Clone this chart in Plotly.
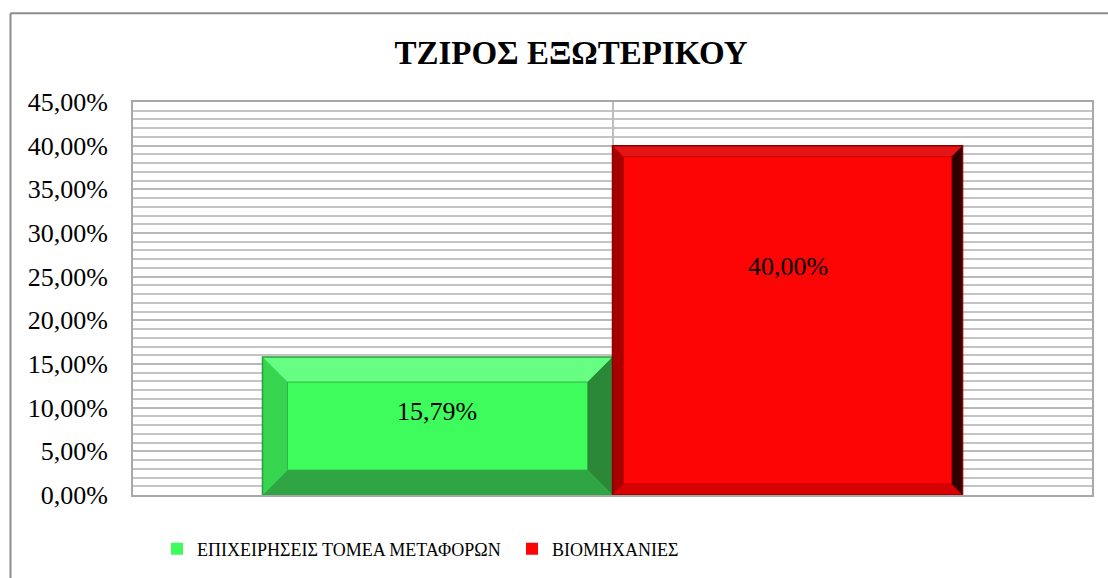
import plotly.graph_objects as go

# ---- data ----
series_names = ["ΕΠΙΧΕΙΡΗΣΕΙΣ ΤΟΜΕΑ ΜΕΤΑΦΟΡΩΝ", "ΒΙΟΜΗΧΑΝΙΕΣ"]
series_values = [0.1579, 0.40]
label_texts = ["15,79%", "40,00%"]
title_text = "ΤΖΙΡΟΣ ΕΞΩΤΕΡΙΚΟΥ"

# ---- styles ----
W, H = 1108, 578
ML, MR, MT, MB = 133, 16, 102, 82
PW, PH = W - ML - MR, H - MT - MB
YMAX = 0.45
XR = (-0.5, 0.5)
BARGAP = 0.27
FONT = "Liberation Serif"
label_y = [0.096, 0.262]          # label positions (layout)
bevel_px = [25, 11]
main_colors = ["#3dfc5c", "#fe0505"]
bevel_colors = [
    dict(top="#66ff84", left="#37d450", bottom="#2fa544", right="#2a8838", edge="#2e9e3e", inner="#33b048"),
    dict(top="#e51515", left="#a80000", bottom="#d80000", right="#300000", edge="#8b0000", inner="#c00000"),
]

px_x = (XR[1] - XR[0]) / PW
px_y = YMAX / PH

fig = go.Figure()
for i, (name, v) in enumerate(zip(series_names, series_values)):
    fig.add_trace(go.Bar(
        x=[0], y=[v], name=name,
        marker=dict(color=main_colors[i], line=dict(width=0)),
        hoverinfo="skip",
    ))

# bevel shapes computed from bar geometry
bw = (1 - BARGAP) / len(series_values)
shapes = []
for i, v in enumerate(series_values):
    x0 = -(1 - BARGAP) / 2 + i * bw
    x1 = x0 + bw
    y0, y1 = 0, v
    dx = bevel_px[i] * px_x
    dy = bevel_px[i] * px_y
    c = bevel_colors[i]
    def path(pts):
        return "M " + " L ".join(f"{a},{b}" for a, b in pts) + " Z"
    polys = [
        ("top", [(x0, y1), (x1, y1), (x1 - dx, y1 - dy), (x0 + dx, y1 - dy)]),
        ("bottom", [(x0, y0), (x1, y0), (x1 - dx, y0 + dy), (x0 + dx, y0 + dy)]),
        ("left", [(x0, y0), (x0, y1), (x0 + dx, y1 - dy), (x0 + dx, y0 + dy)]),
        ("right", [(x1, y0), (x1, y1), (x1 - dx, y1 - dy), (x1 - dx, y0 + dy)]),
    ]
    for key, pts in polys:
        shapes.append(dict(type="path", xref="x", yref="y", path=path(pts),
                           fillcolor=c[key], line=dict(width=0), layer="above"))
    shapes.append(dict(type="rect", xref="x", yref="y",
                       x0=x0 + dx, x1=x1 - dx, y0=y0 + dy, y1=y1 - dy,
                       line=dict(color=c["inner"], width=1), fillcolor="rgba(0,0,0,0)"))
    shapes.append(dict(type="rect", xref="x", yref="y",
                       x0=x0, x1=x1, y0=y0, y1=y1,
                       line=dict(color=c["edge"], width=1.5), fillcolor="rgba(0,0,0,0)"))

# outer chart frame (top and left visible)
fx = (10.5 - ML) / PW
fy = (H - MB - 13) / PH
shapes.append(dict(type="line", xref="paper", yref="paper", x0=fx, x1=(W + 5 - ML) / PW,
                   y0=fy, y1=fy, line=dict(color="#8c8c8c", width=2)))
shapes.append(dict(type="line", xref="paper", yref="paper", x0=fx, x1=fx,
                   y0=fy, y1=-0.3, line=dict(color="#8c8c8c", width=2)))

annotations = []
for i, v in enumerate(series_values):
    x0 = -(1 - BARGAP) / 2 + i * bw
    annotations.append(dict(x=x0 + bw / 2, y=label_y[i], xref="x", yref="y",
                            text=label_texts[i], showarrow=False,
                            font=dict(family=FONT, size=26, color="black")))

fig.update_layout(
    width=W, height=H,
    margin=dict(l=ML, r=MR, t=MT, b=MB),
    paper_bgcolor="white", plot_bgcolor="white",
    separators=",.",
    barmode="group", bargap=BARGAP, bargroupgap=0,
    title=dict(text=f"<b>{title_text}</b>", x=(571 - ML) / PW, xref="paper", xanchor="center",
               y=1 - 52 / H, yanchor="middle", yref="container",
               font=dict(family=FONT, size=33, color="black")),
    font=dict(family=FONT, size=25, color="black"),
    showlegend=True,
    legend=dict(orientation="h", x=(157 - ML) / PW, xanchor="left",
                y=-(549 - (H - MB)) / PH, yanchor="middle",
                font=dict(family=FONT, size=18, color="black"),
                itemwidth=30, entrywidth=310, entrywidthmode="pixels",
                traceorder="normal", bgcolor="rgba(0,0,0,0)"),
    shapes=shapes,
    annotations=annotations,
)
fig.update_xaxes(range=list(XR), tickvals=[XR[0], 0, XR[1]], showticklabels=False,
                 showgrid=True, gridcolor="#bdbdbd", gridwidth=1.5, zeroline=False,
                 showline=True, mirror=True, linecolor="#a8a8a8", linewidth=2, ticks="")
fig.update_yaxes(range=[0, YMAX], dtick=0.05, tick0=0, tickformat=".2%",
                 showgrid=True, gridcolor="#b8b8b8", gridwidth=1.5,
                 minor=dict(dtick=0.01, showgrid=True, gridcolor="#c4c4c4", gridwidth=1.5),
                 zeroline=False, showline=True, mirror=True, linecolor="#a8a8a8", linewidth=2,
                 ticks="", ticklabelstandoff=18,
                 tickfont=dict(family=FONT, size=26, color="black"))

fig.write_html("out.html", config={"displayModeBar": False},
               post_script="document.body.style.margin='0px';")
